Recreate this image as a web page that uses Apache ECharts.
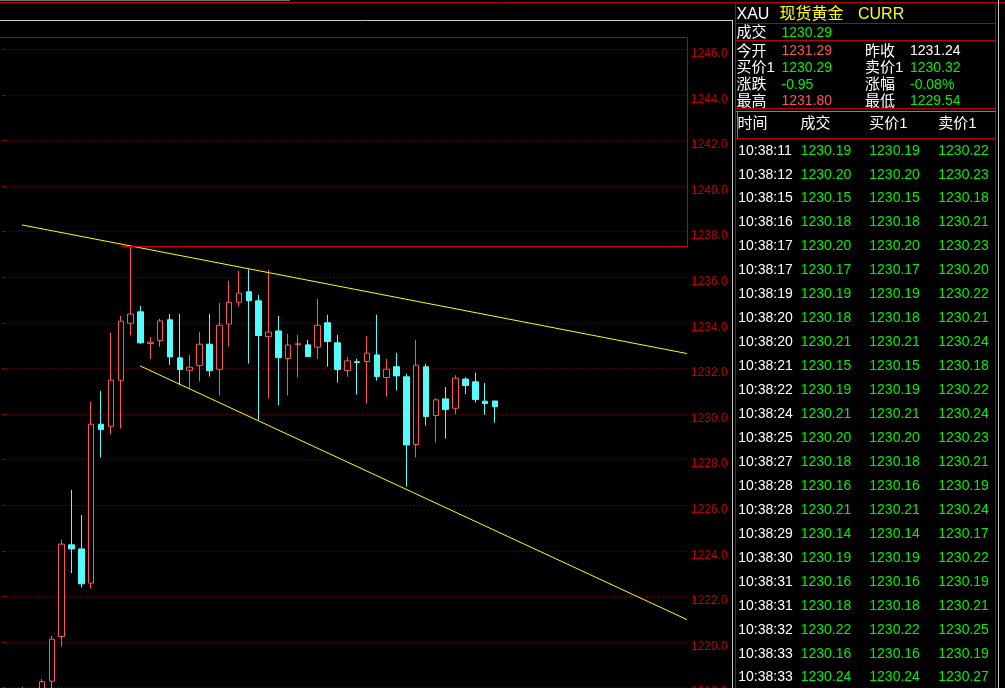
<!DOCTYPE html>
<html><head><meta charset="utf-8">
<script src="https://cdn.jsdelivr.net/npm/echarts@6/dist/echarts.min.js"></script>
<style>html,body{margin:0;padding:0;background:#000;overflow:hidden}#c{width:1005px;height:688px}</style>
</head><body><div id="c"></div>
<script>
// ---------- data ----------
const symbolCode = 'XAU';
const symbolName = '现货黄金';
const marketCode = 'CURR';
const lastLabel = '成交';
const lastPrice = '1230.29';
const prevClose = 1231.24;
const quoteLabelsLeft = ['今开', '买价1', '涨跌', '最高'];
const quoteValuesLeft = ['1231.29', '1230.29', '-0.95', '1231.80'];
const quoteLabelsRight = ['昨收', '卖价1', '涨幅', '最低'];
const quoteValuesRight = ['1231.24', '1230.32', '-0.08%', '1229.54'];
const tickHeaders = ['时间', '成交', '买价1', '卖价1'];
const tickTimes = ['10:38:11','10:38:12','10:38:15','10:38:16','10:38:17','10:38:17','10:38:19','10:38:20','10:38:20','10:38:21','10:38:22','10:38:24','10:38:25','10:38:27','10:38:28','10:38:28','10:38:29','10:38:30','10:38:31','10:38:31','10:38:32','10:38:33','10:38:33'];
const tickPrices = ['1230.19','1230.20','1230.15','1230.18','1230.20','1230.17','1230.19','1230.18','1230.21','1230.15','1230.19','1230.21','1230.20','1230.18','1230.16','1230.21','1230.14','1230.19','1230.16','1230.18','1230.22','1230.16','1230.24'];
const tickBids = ['1230.19','1230.20','1230.15','1230.18','1230.20','1230.17','1230.19','1230.18','1230.21','1230.15','1230.19','1230.21','1230.20','1230.18','1230.16','1230.21','1230.14','1230.19','1230.16','1230.18','1230.22','1230.16','1230.24'];
const tickAsks = ['1230.22','1230.23','1230.18','1230.21','1230.23','1230.20','1230.22','1230.21','1230.24','1230.18','1230.22','1230.24','1230.23','1230.21','1230.19','1230.24','1230.17','1230.22','1230.19','1230.21','1230.25','1230.19','1230.27'];

const slotCount = 70;
const opens  = [1216.2,1216.8,1217.2,1217.6,1217.5,1218.28,1220.24,1224.26,1224.08,1222.58,1229.55,1229.46,1231.48,1233.98,1234.48,1233.09,1233.22,1234.13,1232.46,1231.92,1232.12,1233.06,1231.96,1233.94,1234.90,1235.36,1234.96,1233.39,1233.64,1232.43,1233.05,1233.03,1232.93,1234.00,1233.12,1231.90,1232.29,1232.30,1232.59,1231.60,1232.07,1231.63,1228.66,1232.07,1229.93,1230.66,1230.25,1231.53,1231.41,1230.56,1230.57];
const closes = [1216.8,1217.2,1217.6,1217.5,1218.26,1220.12,1224.29,1224.08,1222.55,1229.55,1229.32,1231.48,1234.07,1234.38,1233.12,1233.15,1234.08,1232.50,1231.95,1232.05,1233.06,1231.90,1233.89,1234.90,1235.30,1234.97,1233.44,1233.59,1232.47,1233.02,1233.08,1232.52,1233.89,1233.18,1231.95,1232.33,1232.26,1232.67,1231.64,1231.96,1231.67,1228.64,1232.14,1229.89,1230.62,1230.19,1231.57,1231.25,1230.63,1230.46,1230.32];
const lows   = [1215.9,1216.5,1216.9,1217.2,1217.3,1217.7,1219.80,1223.02,1222.39,1222.34,1228.09,1229.11,1229.36,1233.44,1233.08,1232.42,1232.94,1232.15,1231.26,1231.10,1231.42,1231.64,1230.81,1232.96,1234.71,1232.21,1229.73,1230.68,1230.37,1230.81,1231.60,1232.52,1232.42,1232.08,1231.38,1231.63,1230.85,1230.46,1231.46,1230.76,1231.03,1226.82,1228.09,1229.49,1228.75,1228.92,1229.99,1230.87,1230.50,1229.96,1229.62];
const highs  = [1217.0,1217.5,1218.04,1217.9,1218.37,1220.27,1224.48,1226.67,1225.57,1230.53,1231.01,1233.56,1234.30,1237.34,1234.74,1233.38,1234.18,1234.39,1234.39,1232.59,1233.60,1234.39,1234.87,1235.84,1236.28,1236.35,1235.22,1236.32,1234.30,1233.51,1233.47,1233.25,1235.05,1234.35,1233.47,1232.50,1232.42,1233.41,1234.35,1232.42,1232.68,1231.76,1233.25,1232.20,1230.69,1231.18,1231.70,1231.61,1231.80,1231.36,1230.57];
const upperTrend = [[1.97, 1238.29], [69.5, 1232.65]];
const lowerTrend = [[13.95, 1232.11], [69.5, 1220.98]];
const yMin = 1216, yMax = 1246.52, yStep = 2;

// ---------- build ----------
const categories = [];
for (let i = 0; i < slotCount; i++) categories.push(String(i));
const candles = opens.map((o, i) => [o, closes[i], lows[i], highs[i]]);
const hi = Math.max.apply(null, highs);
const hiIdx = highs.indexOf(hi);
const hiLine = [[hiIdx - 1, hi], [slotCount - 0.5, hi]];

const RED = '#ff5454', CYAN = '#54fcfc', GREEN = '#00f000', YELLOW = '#ffff00', FRAME = '#c00000';
const gridTop = 37.3, gridRight = 318, gridLeft = -2.3;
const pxPerUnit = 22.8;
const gridH = (yMax - yMin) * pxPerUnit;
const gridBottom = 688 - gridTop - gridH;

const chart = echarts.init(document.getElementById('c'), null, {renderer: 'canvas'});
chart.setOption({
  backgroundColor: '#000',
  animation: false,
  grid: {left: gridLeft, right: gridRight, top: gridTop, bottom: gridBottom, containLabel: false, outerBoundsMode: 'none'},
  xAxis: [
    {type: 'category', data: categories, show: false, boundaryGap: true},
    {type: 'value', min: -0.5, max: slotCount - 0.5, show: false}
  ],
  yAxis: {
    type: 'value', position: 'right', min: yMin, max: yMax, interval: yStep, scale: true,
    axisLine: {show: false},
    axisTick: {show: true, length: 2, lineStyle: {color: FRAME, width: 1}},
    axisLabel: {show: true, showMaxLabel: false, margin: 4, color: '#c00000',
      fontFamily: '"Liberation Sans", Arial, sans-serif', fontSize: 12,
      verticalAlign: 'top', lineHeight: 9,
      formatter: v => v.toFixed(1)},
    splitLine: {show: true, lineStyle: {color: '#a00000', width: 1, type: [1, 3]}}
  },
  series: [
    {type: 'candlestick', data: candles, barWidth: 6, xAxisIndex: 0,
      itemStyle: {color: '#000', color0: CYAN, borderColor: RED, borderColor0: CYAN, borderWidth: 1}},
    {type: 'line', xAxisIndex: 1, data: upperTrend, showSymbol: false, symbol: 'none', silent: true,
      lineStyle: {color: YELLOW, width: 1}},
    {type: 'line', xAxisIndex: 1, data: lowerTrend, showSymbol: false, symbol: 'none', silent: true,
      lineStyle: {color: YELLOW, width: 1}},
    {type: 'line', xAxisIndex: 1, data: hiLine, showSymbol: false, symbol: 'none', silent: true,
      lineStyle: {color: '#e00000', width: 1}}
  ]
});

// ---------- panel / frame ----------
const FONT_NUM = '14px "Liberation Sans", Arial, "Noto Sans CJK SC", sans-serif';
const FONT_LBL = '15px "Liberation Sans", Arial, "Noto Sans CJK SC", sans-serif';
const FONT_TITLE = '16px "Liberation Sans", Arial, "Noto Sans CJK SC", sans-serif';
function hline(x1, x2, y, c) { return {type: 'line', silent: true, shape: {x1: x1, y1: y, x2: x2, y2: y}, style: {stroke: c, lineWidth: 1}}; }
function vline(x, y1, y2, c) { return {type: 'line', silent: true, shape: {x1: x, y1: y1, x2: x, y2: y2}, style: {stroke: c, lineWidth: 1}}; }
function txt(x, y, s, c, f) { return {type: 'text', silent: true, x: x, y: y, style: {text: s, fill: c, font: f || FONT_NUM, verticalAlign: 'middle', align: 'left'}}; }
function priceColor(s) {
  const v = parseFloat(s);
  if (s.indexOf('%') >= 0 || Math.abs(v) < 100) return v > 0 ? RED : (v < 0 ? GREEN : '#fff');
  return v > prevClose ? RED : (v < prevClose ? GREEN : '#fff');
}

const plotRight = 1005 - gridRight;
const yHi = chart.convertToPixel({yAxisIndex: 0}, hi);
const els = [];
els.push(hline(0, 1005, 2.5, FRAME));
els.push(hline(0, 290, 0.5, '#707070'));
els.push(hline(0, 733, 20.5, '#c8c8c8'));
els.push(vline(732.5, 20, 688, '#c8c8c8'));
els.push(hline(0, plotRight, 37.5, FRAME));
els.push(vline(plotRight + 0.5, 37.5, Math.round(yHi) + 0.5, FRAME));
els.push(vline(735.5, 3, 688, FRAME));
els.push(vline(995.5, 3, 688, FRAME));
els.push(vline(998.5, 0, 688, '#c8c8c8'));
els.push(hline(735, 996, 23.5, FRAME));
els.push(hline(735, 996, 40.5, FRAME));
els.push(hline(735, 996, 108.5, FRAME));
els.push(hline(736, 996, 111.5, '#808080'));
els.push(vline(737.5, 111, 138, '#808080'));
els.push(hline(735, 996, 138.5, FRAME));

els.push(txt(736.5, 14.5, symbolCode, '#ffffff', FONT_TITLE));
els.push(txt(779.5, 14.5, symbolName, YELLOW, FONT_TITLE));
els.push(txt(858, 14.5, marketCode, YELLOW, FONT_TITLE));
els.push(txt(736.5, 33, lastLabel, '#ffffff', FONT_LBL));
els.push(txt(781.5, 33, lastPrice, priceColor(lastPrice)));
const qy0 = 51.5, qStep = 16.7;
quoteLabelsLeft.forEach((l, i) => {
  const y = qy0 + i * qStep;
  els.push(txt(736.5, y, l, '#ffffff', FONT_LBL));
  els.push(txt(781.5, y, quoteValuesLeft[i], priceColor(quoteValuesLeft[i])));
  els.push(txt(865, y, quoteLabelsRight[i], '#ffffff', FONT_LBL));
  const rv = quoteValuesRight[i];
  els.push(txt(910, y, rv, i === 0 ? '#ffffff' : priceColor(rv)));
});
const colX = [737.5, 800.5, 869.3, 938.3];
tickHeaders.forEach((h, i) => els.push(txt(colX[i], 123.5, h, '#ffffff', FONT_LBL)));
const ty0 = 150.7, tStep = 23.95;
tickTimes.forEach((t, i) => {
  const y = ty0 + i * tStep;
  els.push(txt(738.3, y, t, '#ffffff'));
  els.push(txt(800.7, y, tickPrices[i], priceColor(tickPrices[i])));
  els.push(txt(869.3, y, tickBids[i], priceColor(tickBids[i])));
  els.push(txt(938.3, y, tickAsks[i], priceColor(tickAsks[i])));
});
chart.setOption({graphic: {elements: els}});
</script></body></html>
